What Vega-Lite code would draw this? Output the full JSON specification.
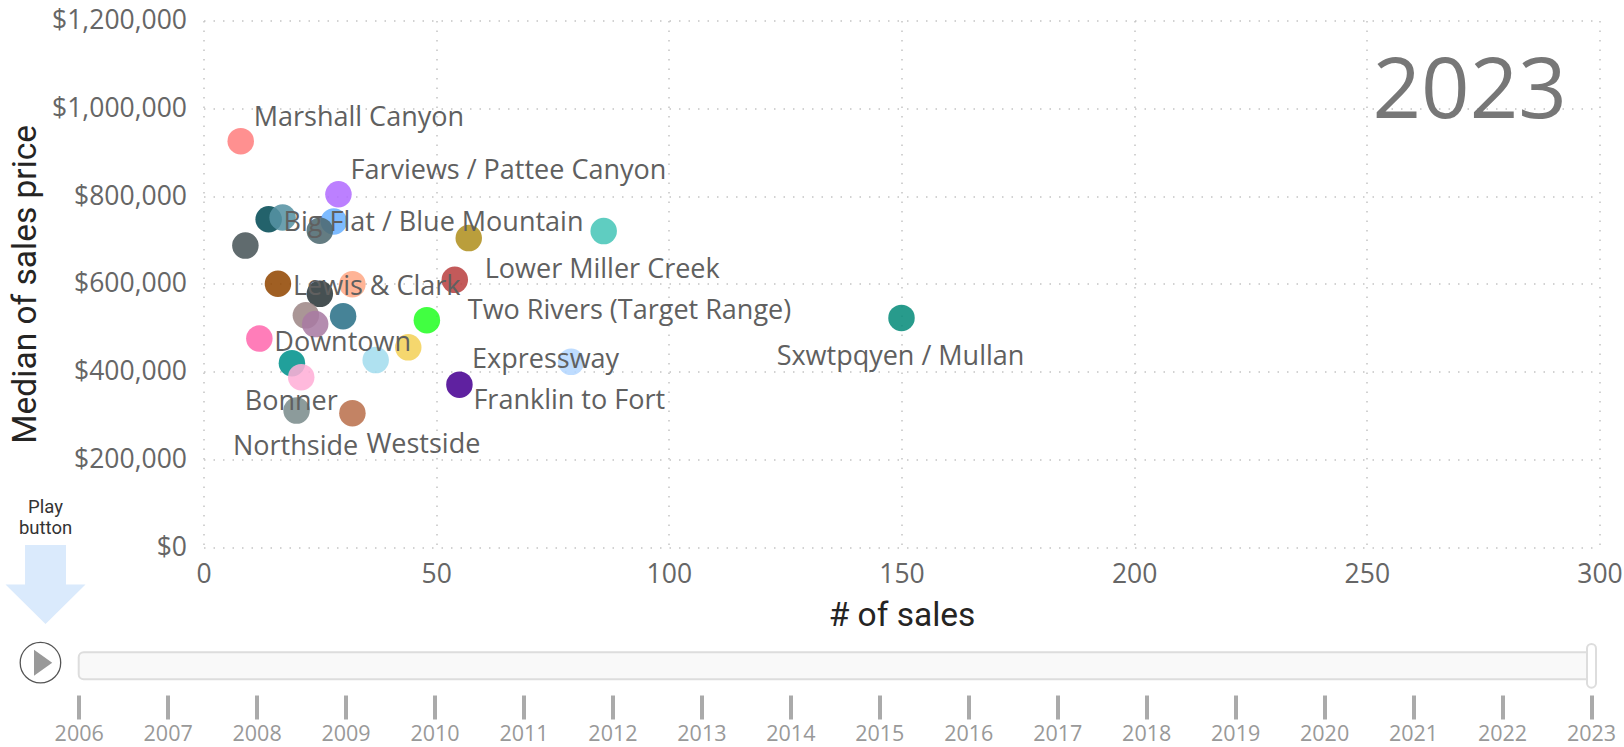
{"$schema":"https://vega.github.io/schema/vega-lite/v6.json","width":1396,"height":526.5,"autosize":{"type":"none"},"padding":{"left":203.5,"top":20.5,"right":24.5,"bottom":200},"background":"white","config":{"view":{"stroke":null}},
"datasets":{"sales":[
{"area":"Marshall Canyon","sales":8,"price":925000},
{"area":"Farviews / Pattee Canyon","sales":29,"price":804000},
{"area":"Unlabelled 1","sales":14,"price":747000},
{"area":"Big Flat / Blue Mountain","sales":17,"price":751000},
{"area":"Unlabelled 2","sales":28,"price":742000},
{"area":"Unlabelled 3","sales":25,"price":721000},
{"area":"Lower Miller Creek","sales":57,"price":704000},
{"area":"Unlabelled 4","sales":86,"price":720000},
{"area":"Unlabelled 5","sales":9,"price":687000},
{"area":"Lewis & Clark","sales":16,"price":600000},
{"area":"Unlabelled 6","sales":32,"price":599000},
{"area":"Two Rivers (Target Range)","sales":54,"price":609000},
{"area":"Unlabelled 7","sales":25,"price":577000},
{"area":"Unlabelled 8","sales":22,"price":528000},
{"area":"Unlabelled 9","sales":24,"price":508000},
{"area":"Unlabelled 10","sales":30,"price":526000},
{"area":"Unlabelled 11","sales":48,"price":517000},
{"area":"Downtown","sales":12,"price":475000},
{"area":"Unlabelled 12","sales":44,"price":455000},
{"area":"Unlabelled 13","sales":37,"price":426000},
{"area":"Expressway","sales":79,"price":422000},
{"area":"Unlabelled 14","sales":19,"price":419000},
{"area":"Bonner","sales":21,"price":387000},
{"area":"Franklin to Fort","sales":55,"price":370000},
{"area":"Northside","sales":20,"price":311000},
{"area":"Westside","sales":32,"price":305000},
{"area":"Sxwtpqyen / Mullan","sales":150,"price":522000}
]},
"layer":[
{"layer":[
{"data":{"name":"sales"},
"encoding":{
"x":{"field":"sales","type":"quantitative","scale":{"domain":[0,300],"nice":false},"axis":{"values":[0,50,100,150,200,250,300],"title":"# of sales","titleFont":"Roboto","titleFontSize":33.5,"titleFontWeight":400,"titleColor":"#252423","titlePadding":12,"labelFont":"Open Sans","labelFontSize":26.5,"labelColor":"#666666","labelPadding":14,"labelFlush":false,"labelOverlap":false,"domain":false,"ticks":false,"grid":true,"gridDash":[1.5,8],"gridColor":"#c4c4c4","gridWidth":1.5}},
"y":{"field":"price","type":"quantitative","scale":{"domain":[0,1200000],"nice":false},"axis":{"values":[0,200000,400000,600000,800000,1000000,1200000],"format":"$,.0f","title":"Median of sales price","titleFont":"Roboto","titleFontSize":33.5,"titleFontWeight":400,"titleColor":"#252423","titlePadding":9,"labelFont":"Open Sans","labelFontSize":26.5,"labelColor":"#666666","labelPadding":17,"labelOverlap":false,"domain":false,"ticks":false,"grid":true,"gridDash":[1.5,8],"gridColor":"#c4c4c4","gridWidth":1.5}}
},
"layer":[
{"mark":{"type":"point","filled":true,"size":702,"opacity":0.87,"shape":"circle"},
"encoding":{"color":{"field":"area","type":"nominal","legend":null,"scale":{"domain":["Marshall Canyon","Farviews / Pattee Canyon","Unlabelled 1","Big Flat / Blue Mountain","Unlabelled 2","Unlabelled 3","Lower Miller Creek","Unlabelled 4","Unlabelled 5","Lewis & Clark","Unlabelled 6","Two Rivers (Target Range)","Unlabelled 7","Unlabelled 8","Unlabelled 9","Unlabelled 10","Unlabelled 11","Downtown","Unlabelled 12","Unlabelled 13","Expressway","Unlabelled 14","Bonner","Franklin to Fort","Northside","Westside","Sxwtpqyen / Mullan"],"range":["#FF8080","#B26DFF","#024B55","#5692A3","#6AB1FF","#4D696F","#B0901F","#47C6B8","#485559","#924702","#FFA986","#BA4242","#2B3638","#9D8686","#A97BA3","#2B7087","#25FF25","#FF6AAF","#F4D158","#A3DDEE","#B4D7FF","#00928C","#FFAFD7","#470092","#7B8C8C","#BA704D","#088C7B"]}}}},
{"transform":[{"filter":"datum.area=='Marshall Canyon'"}],"mark":{"type":"text","align":"left","baseline":"middle","dx":13,"dy":-23,"font":"Open Sans","fontSize":27,"color":"#606060"},"encoding":{"text":{"field":"area"}}},
{"transform":[{"filter":"datum.area=='Farviews / Pattee Canyon'"}],"mark":{"type":"text","align":"left","baseline":"middle","dx":12,"dy":-23,"font":"Open Sans","fontSize":27,"color":"#606060"},"encoding":{"text":{"field":"area"}}},
{"transform":[{"filter":"datum.area=='Big Flat / Blue Mountain'"}],"mark":{"type":"text","align":"left","baseline":"middle","dx":1,"dy":6,"font":"Open Sans","fontSize":27,"color":"#606060"},"encoding":{"text":{"field":"area"}}},
{"transform":[{"filter":"datum.area=='Lower Miller Creek'"}],"mark":{"type":"text","align":"left","baseline":"middle","dx":16,"dy":32,"font":"Open Sans","fontSize":27,"color":"#606060"},"encoding":{"text":{"field":"area"}}},
{"transform":[{"filter":"datum.area=='Two Rivers (Target Range)'"}],"mark":{"type":"text","align":"left","baseline":"middle","dx":13,"dy":31,"font":"Open Sans","fontSize":27,"color":"#606060"},"encoding":{"text":{"field":"area"}}},
{"transform":[{"filter":"datum.area=='Lewis & Clark'"}],"mark":{"type":"text","align":"left","baseline":"middle","dx":15,"dy":3,"font":"Open Sans","fontSize":27,"color":"#606060"},"encoding":{"text":{"field":"area"}}},
{"transform":[{"filter":"datum.area=='Downtown'"}],"mark":{"type":"text","align":"left","baseline":"middle","dx":15,"dy":4,"font":"Open Sans","fontSize":27,"color":"#606060"},"encoding":{"text":{"field":"area"}}},
{"transform":[{"filter":"datum.area=='Expressway'"}],"mark":{"type":"text","align":"left","baseline":"middle","dx":-99,"dy":-2,"font":"Open Sans","fontSize":27,"color":"#606060"},"encoding":{"text":{"field":"area"}}},
{"transform":[{"filter":"datum.area=='Franklin to Fort'"}],"mark":{"type":"text","align":"left","baseline":"middle","dx":14,"dy":16,"font":"Open Sans","fontSize":27,"color":"#606060"},"encoding":{"text":{"field":"area"}}},
{"transform":[{"filter":"datum.area=='Bonner'"}],"mark":{"type":"text","align":"center","baseline":"middle","dx":-10,"dy":25,"font":"Open Sans","fontSize":27,"color":"#606060"},"encoding":{"text":{"field":"area"}}},
{"transform":[{"filter":"datum.area=='Northside'"}],"mark":{"type":"text","align":"center","baseline":"middle","dx":-1,"dy":36,"font":"Open Sans","fontSize":27,"color":"#606060"},"encoding":{"text":{"field":"area"}}},
{"transform":[{"filter":"datum.area=='Westside'"}],"mark":{"type":"text","align":"left","baseline":"middle","dx":14,"dy":32,"font":"Open Sans","fontSize":27,"color":"#606060"},"encoding":{"text":{"field":"area"}}},
{"transform":[{"filter":"datum.area=='Sxwtpqyen / Mullan'"}],"mark":{"type":"text","align":"center","baseline":"middle","dx":-1,"dy":39,"font":"Open Sans","fontSize":27,"color":"#606060"},"encoding":{"text":{"field":"area"}}}
]},
{"data":{"values":[{"year":"2023"}]},"mark":{"type":"text","align":"right","baseline":"middle","font":"Open Sans","fontSize":85,"color":"#777777"},"encoding":{"x":{"datum":293,"type":"quantitative"},"y":{"datum":1038000,"type":"quantitative"},"text":{"field":"year"}}}
]},
{"layer":[
{"data":{"values":[{"from":2006,"to":2023}]},"mark":{"type":"rect","fill":"#f9f9f9","stroke":"#dddddd","strokeWidth":2,"cornerRadius":5},"encoding":{"x":{"field":"from","type":"quantitative","scale":{"domain":[2006,2023],"range":[-124.8,1387.5],"nice":false,"zero":false},"axis":{"orient":"bottom","offset":148,"values":[2006,2007,2008,2009,2010,2011,2012,2013,2014,2015,2016,2017,2018,2019,2020,2021,2022,2023],"format":"d","title":null,"domain":false,"grid":false,"tickColor":"#aaaaaa","tickWidth":4,"tickSize":24,"labelFont":"Open Sans","labelFontSize":21.5,"labelColor":"#999999","labelPadding":4,"labelFlush":false,"labelOverlap":false}},"x2":{"field":"to"},"y":{"datum":0,"type":"quantitative","scale":{"domain":[0,1],"range":[658.8,631.8],"nice":false,"zero":false},"axis":null},"y2":{"datum":1}}},
{"data":{"values":[{"from":2022.955,"to":2023.056}]},"mark":{"type":"rect","fill":"#ffffff","stroke":"#dddddd","strokeWidth":2,"cornerRadius":4.5},"encoding":{"x":{"field":"from","type":"quantitative"},"x2":{"field":"to"},"y":{"datum":-0.31,"type":"quantitative"},"y2":{"datum":1.31}}},
{"data":{"values":[{"k":"play"}]},"mark":{"type":"point","shape":"circle","filled":false,"size":1640,"stroke":"#555555","strokeWidth":1.3,"opacity":1},"encoding":{"x":{"datum":2005.57,"type":"quantitative"},"y":{"datum":0.615,"type":"quantitative"}}},
{"data":{"values":[{"k":"play"}]},"mark":{"type":"point","shape":"M -0.7 -1 L 0.7 0 L -0.7 1 Z","filled":true,"size":676,"fill":"#999999","opacity":1,"strokeWidth":0},"encoding":{"x":{"datum":2005.6,"type":"quantitative"},"y":{"datum":0.615,"type":"quantitative"}}},
{"data":{"values":[{"k":"arrow"}]},"mark":{"type":"point","shape":"M -0.512 -0.988 L 0.512 -0.988 L 0.512 0 L 1 0 L 0 0.988 L -1 0 L -0.512 0 Z","filled":true,"size":6400,"fill":"#DAEAFC","opacity":1},"encoding":{"x":{"datum":2005.627,"type":"quantitative"},"y":{"datum":3.51,"type":"quantitative"}}},
{"data":{"values":[{"t":"Play\nbutton"}]},"mark":{"type":"text","lineBreak":"\n","lineHeight":21,"align":"center","baseline":"middle","font":"Roboto","fontSize":18.5,"color":"#333333"},"encoding":{"x":{"datum":2005.627,"type":"quantitative"},"y":{"datum":6.4,"type":"quantitative"},"text":{"field":"t"}}}
]}
],
"resolve":{"scale":{"x":"independent","y":"independent"}}}
